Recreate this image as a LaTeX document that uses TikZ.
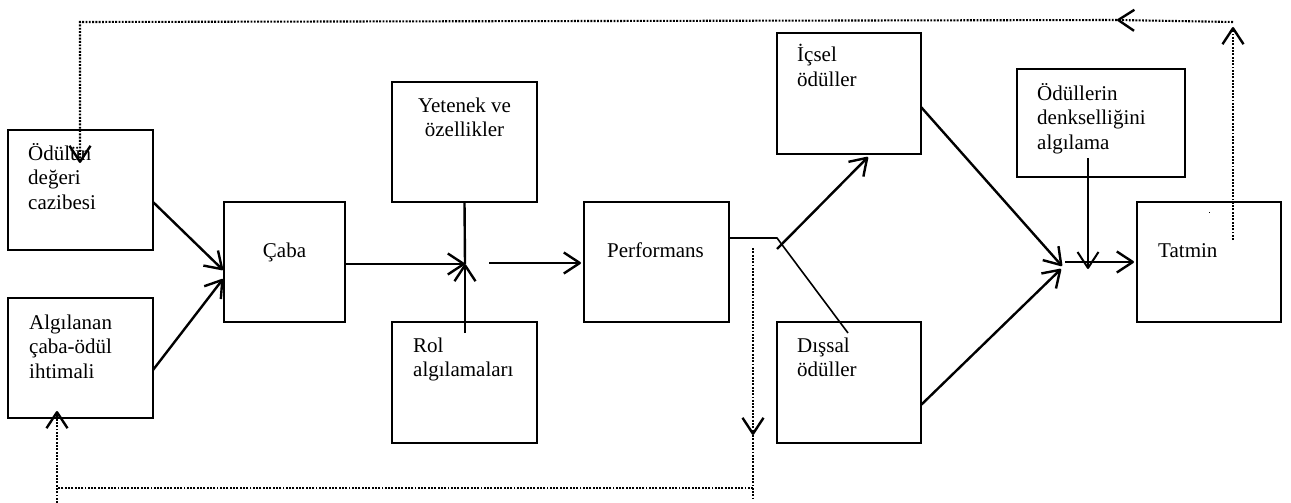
\documentclass[tikz,border=0pt]{standalone}
\usepackage{fontspec}
\setmainfont{Liberation Serif}
\usetikzlibrary{arrows.meta}
\begin{document}
\begin{tikzpicture}[x=1pt,y=-1pt,
  box/.style={draw,line width=2.3pt,rectangle,inner sep=0pt,outer sep=0pt},
  lbl/.style={anchor=base west,inner sep=0pt,font=\fontsize{21}{24.5}\selectfont},
  clbl/.style={anchor=base,inner sep=0pt,font=\fontsize{21}{24.5}\selectfont},
  arr/.style={line width=2.4pt,-{Straight Barb[length=16pt,width=21pt,line join=round]}},
  ln/.style={line width=2.4pt},
  dot/.style={line width=2.1pt,dash pattern=on 1.9pt off 1.4pt},
  darr/.style={dot,-{Straight Barb[length=16pt,width=21pt,line join=round,line width=2.4pt]}}]
\useasboundingbox (0,0) rectangle (1291,503);
% boxes
\node[box,minimum width=145pt,minimum height=120pt] (odul) at (80.5,190) {};
\node[box,minimum width=145pt,minimum height=120pt] (alg) at (80.5,358) {};
\node[box,minimum width=121pt,minimum height=120pt] (caba) at (284.5,262) {};
\node[box,minimum width=145pt,minimum height=120pt] (yet) at (464.5,142) {};
\node[box,minimum width=145pt,minimum height=121pt] (rol) at (464.5,382.5) {};
\node[box,minimum width=145pt,minimum height=120pt] (perf) at (656.5,262) {};
\node[box,minimum width=144pt,minimum height=121pt] (icsel) at (849,93.5) {};
\node[box,minimum width=144pt,minimum height=121pt] (dissal) at (849,382.5) {};
\node[box,minimum width=168pt,minimum height=108pt] (odl) at (1101,123) {};
\node[box,minimum width=144pt,minimum height=120pt] (tat) at (1209,262) {};
% texts
\node[lbl] (todul) at (28,160) {\parbox[t]{130pt}{Ödülün\\değeri\\cazibesi}};
\node[lbl] (talg) at (29,329) {\parbox[t]{130pt}{Algılanan\\çaba-ödül\\ihtimali}};
\node[clbl] (tcaba) at (284.5,257) {Çaba};
\node[clbl] (tyet) at (464.5,112) {\parbox[t]{150pt}{\centering Yetenek ve\\özellikler}};
\node[lbl] (trol) at (413,352) {\parbox[t]{130pt}{Rol\\algılamaları}};
\node[clbl] (tperf) at (655.5,257) {Performans};
\node[lbl] (ticsel) at (797,62) {\parbox[t]{130pt}{İçsel\\ödüller}};
\node[lbl] (tdissal) at (797,352) {\parbox[t]{130pt}{Dışsal\\ödüller}};
\node[lbl] (todl) at (1037,100) {\parbox[t]{150pt}{Ödüllerin\\denkselliğini\\algılama}};
\node[lbl] (ttat) at (1158,257) {Tatmin};
% coordinates
\coordinate (o1) at (153,202);
\coordinate (c1) at (223,270);
\coordinate (a1) at (153,370);
\coordinate (c2) at (223,279);
\coordinate (x) at (465,264);
\coordinate (r1) at (465,333);
\coordinate (x2) at (489,263);
\coordinate (p1) at (581,263);
\coordinate (p2) at (729,238);
\coordinate (p3) at (777,238);
\coordinate (d1) at (848,333);
\coordinate (p4) at (777,249);
\coordinate (i1) at (868,157);
\coordinate (i2) at (921,107);
\coordinate (j1) at (1062,266);
\coordinate (d2) at (921,405);
\coordinate (j2) at (1061,269);
\coordinate (j3) at (1065,262);
\coordinate (t1) at (1134,262);
\coordinate (q1) at (1088,158);
\coordinate (q2) at (1088,269);
\coordinate (s1) at (1233,240);
\coordinate (s2) at (1233,27);
\coordinate (s3) at (1233,22);
\coordinate (s4) at (1117,20);
\coordinate (s5) at (80,22);
\coordinate (s6) at (80,163);
\coordinate (u1) at (753,248);
\coordinate (u2) at (753,435);
\coordinate (u3) at (753,498);
\coordinate (u4) at (753,488);
\coordinate (u5) at (57,488);
\coordinate (u6) at (57,503);
\coordinate (u7) at (57,411);
% solid connectors
\draw[arr] (o1) -- (c1);
\draw[arr] (a1) -- (c2);
\draw[arr] (caba.east |- x) -- (x);
\draw[ln] (yet.south) -- (x);
\draw[arr] (r1) -- (x);
\draw[arr] (x2) -- (p1);
\draw[line width=1.6pt] (p2) -- (p3) -- (d1);
\draw[arr] (p4) -- (i1);
\draw[arr] (i2) -- (j1);
\draw[arr] (d2) -- (j2);
\draw[arr] (j3) -- (t1);
\draw[arr,line width=2pt] (q1) -- (q2);
% dotted feedback
\draw[darr] (s1) -- (s2);
\draw[darr] (s3) -- (s4);
\draw[darr] (s4) -- (s5) -- (s6);
\draw[darr] (u1) -- (u2);
\draw[dot] (u2) -- (u3);
\draw[dot] (u4) -- (u5);
\draw[darr] (u6) -- (u7);
\fill (1208.5,211.5) rectangle (1209.7,212.7);
\end{tikzpicture}
\end{document}
